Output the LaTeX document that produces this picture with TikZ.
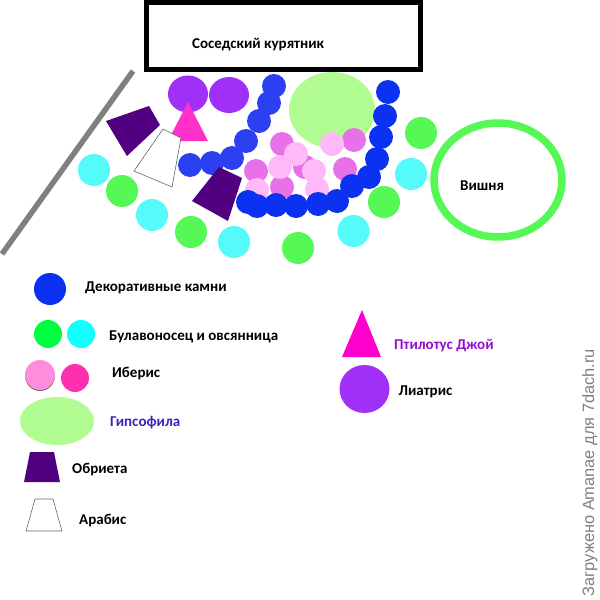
\documentclass[tikz,border=0pt]{standalone}
\usepackage{fontspec}
\setmainfont{Carlito}
\newfontfamily\wmfont{Liberation Sans}
\definecolor{cyanp}{HTML}{55FBFB}
\definecolor{greenp}{HTML}{55F855}
\definecolor{blueA}{HTML}{2B40F0}
\definecolor{blueB}{HTML}{0A32F0}
\definecolor{gyps}{HTML}{B0FC90}
\definecolor{ibD}{HTML}{E870E8}
\definecolor{ibL}{HTML}{FFB8F8}
\definecolor{liat}{HTML}{A030F8}
\definecolor{obr}{HTML}{500080}
\definecolor{ptil}{HTML}{FF30CC}
\definecolor{legG}{HTML}{00FF40}
\definecolor{legC}{HTML}{10FFFF}
\definecolor{legP}{HTML}{FF8CDC}
\definecolor{legM}{HTML}{FF30B0}
\definecolor{legT}{HTML}{FF00CC}
\definecolor{txtG}{HTML}{4020C0}
\definecolor{txtP}{HTML}{9010D0}
\tikzset{
 blob/.style={circle,inner sep=0pt,outer sep=0pt,minimum size=#1},
 lbl/.style={font=\bfseries\fontsize{15}{17}\selectfont,anchor=west,inner sep=0pt,yshift=-1.5pt},
 arab/.style={draw=black!60,line width=.6pt,fill=white},
 obrf/.style={fill=obr},
}
\begin{document}
\begin{tikzpicture}[x=1pt,y=-1pt]
\useasboundingbox (0,0) rectangle (600,600);
\fill[white] (0,0) rectangle (600,600);
% fence and coop
\draw[black!50,line width=5.5pt] (133,71) -- (2,254);
\node[draw=black,line width=5pt,outer sep=0pt,minimum width=274pt,minimum height=66.5pt,inner sep=0pt,anchor=north west] (coop) at (146.5,2.5) {};
\node[lbl] (coopt) at (192,43) {Соседский курятник};
% liatris
\fill[liat] (188,94) ellipse (20 and 18.5);
\fill[liat] (229,95) ellipse (20 and 18);
\fill[ptil] (188,102) -- (208,141) -- (168,141) -- cycle;
% shrubs
\fill[obrf] (106,121) -- (149,106) -- (160,125) -- (127,156) -- cycle;
\draw[arab] (163,129) -- (181,138) -- (172,187) -- (134,171) -- cycle;
% grass
\foreach \x/\y in {94/170,152/215,234/242,353.5/231,411/174}
  \node[blob=32pt,fill=cyanp] at (\x,\y) {};
\foreach \x/\y in {122/191,191/232,298/248,384/202,421/133}
  \node[blob=32pt,fill=greenp] at (\x,\y) {};
% gypsophila
\fill[gyps] (332,110) ellipse (43 and 38);
% iberis
\foreach \x/\y in {282/144,256/171,282/187,354/140,345/169,305/167}
  \node[blob=24pt,fill=ibD] at (\x,\y) {};
\foreach \x/\y in {296/154,280/167,314/171,332/144,257/190,317/189}
  \node[blob=24pt,fill=ibL] at (\x,\y) {};
% stones
\foreach \x/\y in {274/86,269/103,259/121,246/141,232/158,212/163,190/165}
  \node[blob=24pt,fill=blueA] at (\x,\y) {};
\foreach \x/\y in {388/92,385/116,381/137,377/159,369/177,352/186,337/201,318/204,296/206,276/205,257/206,248/202}
  \node[blob=24pt,fill=blueB] at (\x,\y) {};
\fill[obrf] (219,167) -- (242,178) -- (228,221) -- (192,201) -- cycle;
% cherry
\draw[greenp,line width=7.5pt] (498,180) ellipse (64 and 57);
\node[lbl] (cherry) at (460,184) {Вишня};
% legend
\node[blob=32pt,fill=blueB] (l1) at (50,289) {};
\node[lbl] at (85,286) {Декоративные камни};
\node[blob=28pt,fill=legG] (l2) at (48,334) {};
\node[blob=28pt,fill=legC] (l3) at (81,334) {};
\node[lbl] at (109,335) {Булавоносец и овсянница};
\node[blob=30pt,fill=black!60] (l4s) at (40,376) {};
\node[blob=30pt,fill=legP] (l4) at (40,375) {};
\node[blob=28pt,fill=legM] (l5) at (75,378) {};
\node[lbl] at (112,372) {Иберис};
\fill[gyps] (57,421) ellipse (37 and 24);
\node[lbl,text=txtG] at (110,421) {Гипсофила};
\fill[obrf] (30,452) -- (54,452) -- (60,482) -- (24,482) -- cycle;
\node[lbl] at (72,468) {Обриета};
\draw[arab] (35,499) -- (53,499) -- (62,531) -- (26,531) -- cycle;
\node[lbl] at (79,519) {Арабис};
\fill[legT] (362,310) -- (381,357) -- (342,357) -- cycle;
\node[lbl,text=txtP] at (394,344) {Птилотус Джой};
\fill[liat] (364.5,389) ellipse (25 and 24);
\node[lbl] at (398.5,390) {Лиатрис};
% watermark
\node[rotate=90,inner sep=0pt,text=black!50,font=\wmfont\fontsize{16.4}{18}\selectfont] (wm) at (590,472.5) {Загружено Amanae для 7dach.ru};
\end{tikzpicture}
\end{document}
